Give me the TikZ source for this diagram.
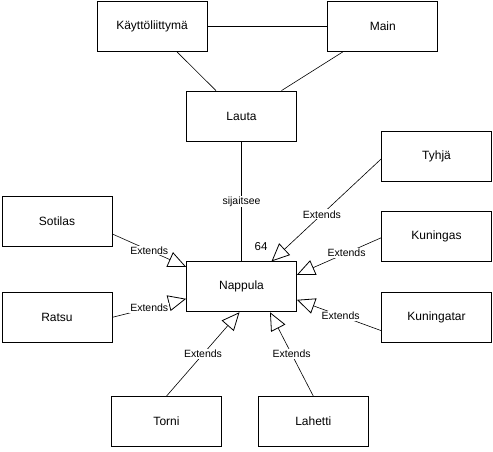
\documentclass[tikz,border=0pt]{standalone}
\usepackage{fontspec}
\setmainfont{Liberation Sans}
\usepackage{tikz}
\usetikzlibrary{arrows.meta, positioning}
\tikzset{
	classbox/.style={rectangle, draw=black, line width=0.8pt, fill=white, minimum width=110pt, minimum height=50pt, font=\fontsize{12}{14}\selectfont},
	assoc/.style={draw=black, line width=0.6pt},
	extends/.style={draw=black, line width=0.6pt, -{Triangle[open, length=18pt, width=16pt, line width=0.8pt]}},
	conn_label/.style={fill=white, inner sep=1pt, font=\fontsize{10.5}{12}\selectfont}
}
\begin{document}
\begin{tikzpicture}[x=1pt, y=-1pt]
					\useasboundingbox[fill=white] (0,0) rectangle (493,451);
					\node[classbox] (kaytto) at (152,26.5) {Käyttöliittymä};
					\node[classbox, right=120pt of kaytto] (main) {Main};
					\node[classbox] (lauta) at (241.5,116) {Lauta};
					\node[classbox, below=120pt of lauta] (nappula) {Nappula};
					\node[classbox] (tyhja) at (436.5,156) {Tyhjä};
					\node[classbox, below=30pt of tyhja] (kuningas) {Kuningas};
					\node[classbox, below=30pt of kuningas] (kuningatar) {Kuningatar};
					\node[classbox] (sotilas) at (57,221) {Sotilas};
					\node[classbox, below=45.5pt of sotilas] (ratsu) {Ratsu};
					\node[classbox] (torni) at (166.5,421.5) {Torni};
					\node[classbox, right=36pt of torni] (lahetti) {Lahetti};
					% associations
					\draw[assoc] (kaytto.east) -- (main.west);
					\draw[assoc] ([xshift=25pt]kaytto.south) -- ([xshift=-25.5pt]lauta.north);
					\draw[assoc] ([xshift=-40pt]main.south) -- ([xshift=40pt]lauta.north);
					\draw[assoc] (lauta.south) -- node[conn_label] {sijaitsee} (nappula.north);
					\node[font=\fontsize{11.5}{12}\selectfont] (mult) at ([xshift=19.5pt, yshift=15pt]nappula.north) {64};
					% inheritance
					\draw[extends] ([yshift=-13pt]sotilas.east) -- node[conn_label] {Extends} ([yshift=20pt]nappula.west);
					\draw[extends] (ratsu.east) -- node[conn_label] {Extends} ([yshift=-12pt]nappula.west);
					\draw[extends] ([yshift=-3pt]tyhja.west) -- node[conn_label, pos=0.54] {Extends} ([xshift=30pt]nappula.north);
					\draw[extends] ([yshift=-1pt]kuningas.west) -- node[conn_label, pos=0.41] {Extends} ([yshift=12pt]nappula.east);
					\draw[extends] ([yshift=-13pt]kuningatar.west) -- node[conn_label, pos=0.48] {Extends} ([yshift=-13pt]nappula.east);
					\draw[extends] (torni.north) -- node[conn_label] {Extends} ([xshift=-2pt]nappula.south);
					\draw[extends] (lahetti.north) -- node[conn_label] {Extends} ([xshift=28.5pt]nappula.south);
				\end{tikzpicture}
\end{document}
